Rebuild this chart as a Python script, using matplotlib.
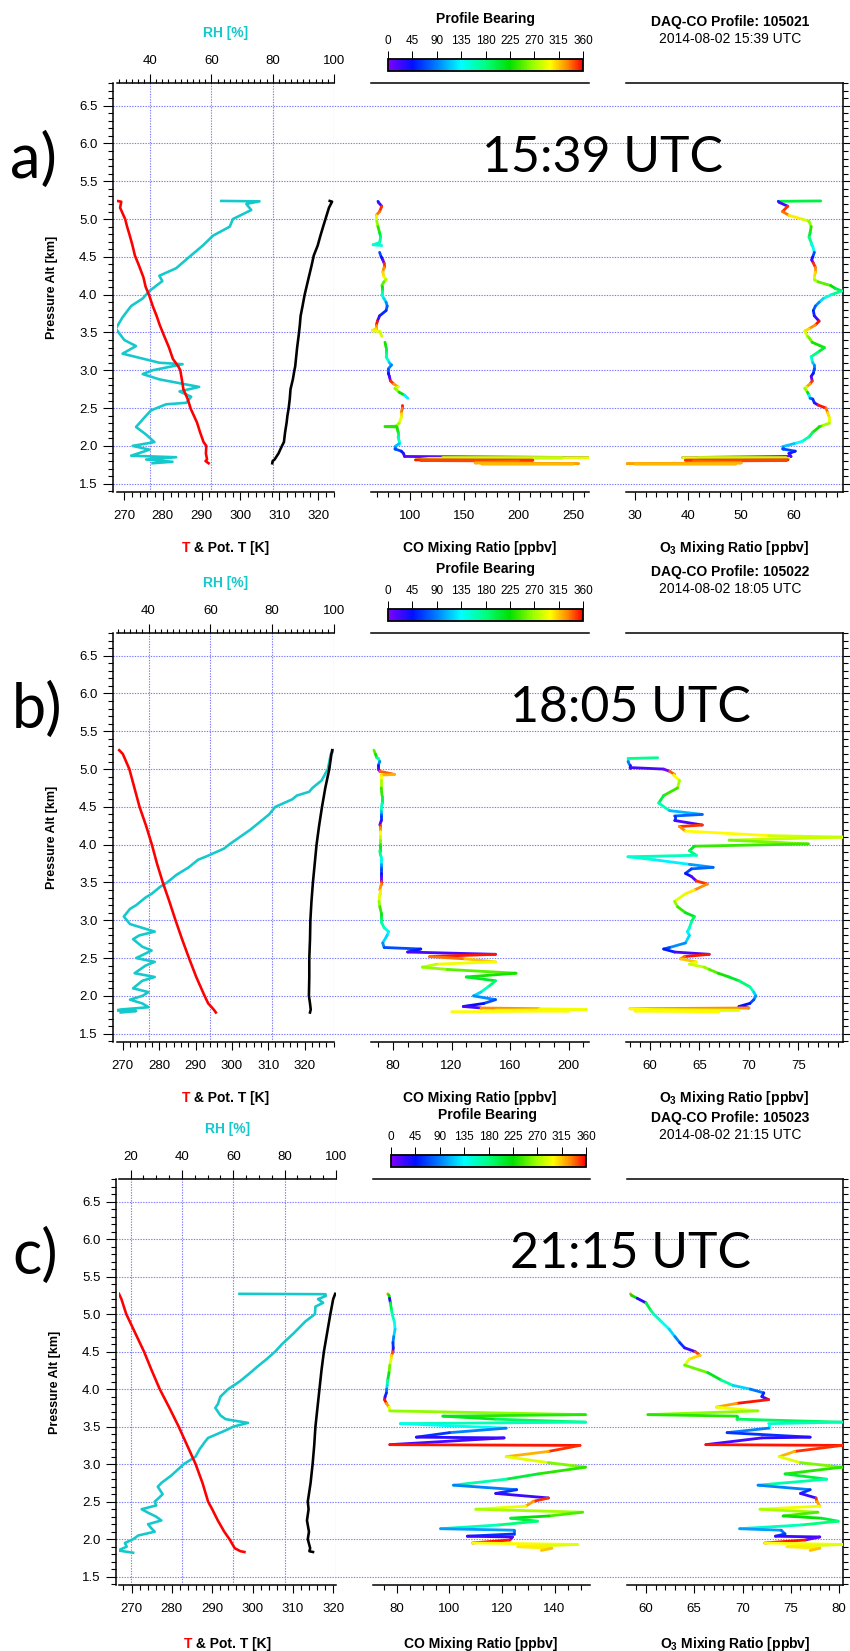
import numpy as np
import matplotlib
matplotlib.use("Agg")
import matplotlib.pyplot as plt
from matplotlib.collections import LineCollection
from matplotlib.colors import LinearSegmentedColormap, Normalize
from matplotlib.cm import ScalarMappable
from matplotlib.ticker import MultipleLocator

plt.rcParams['font.family'] = ['Liberation Sans', 'DejaVu Sans']
plt.rcParams['mathtext.fontset'] = 'custom'
plt.rcParams['mathtext.rm'] = 'Liberation Sans'
plt.rcParams['mathtext.bf'] = 'Liberation Sans:bold'

# ---------------- data ----------------
profile_ids = ["105021", "105022", "105023"]
profile_times = ["2014-08-02 15:39 UTC", "2014-08-02 18:05 UTC", "2014-08-02 21:15 UTC"]
big_times = ["15:39 UTC", "18:05 UTC", "21:15 UTC"]
panel_letters = ["a)", "b)", "c)"]
bearing_ticks = [0, 45, 90, 135, 180, 225, 270, 315, 360]

# row a) temperature / potential temperature
a_tz = [5.24, 5.23, 5.15, 5.0, 4.9, 4.78, 4.65, 4.52, 4.38, 4.23, 4.1, 3.99, 3.85, 3.72, 3.6, 3.46,
        3.3, 3.15, 3.05, 3.0, 2.88, 2.75, 2.62, 2.49, 2.4, 2.31, 2.18, 2.05, 2.0, 1.9, 1.82, 1.8, 1.77]
a_t = [268.2, 269.3, 269.0, 270.3, 270.8, 271.5, 272.2, 272.8, 273.9, 275.0, 275.6, 276.5, 277.4, 278.4,
       279.2, 280.3, 281.6, 282.6, 284.0, 284.5, 284.9, 285.3, 286.4, 287.2, 288.0, 288.8, 289.6, 290.5,
       291.2, 291.1, 291.4, 291.0, 291.8]
a_th = [323.0, 323.6, 322.8, 321.9, 321.3, 320.6, 319.9, 318.9, 318.3, 317.6, 317.0, 316.5, 316.0, 315.5,
        315.3, 315.0, 314.6, 314.3, 314.1, 313.9, 313.5, 312.9, 312.7, 312.4, 312.1, 311.9, 311.5, 311.2,
        310.7, 309.8, 308.8, 308.3, 308.2]
# row a) relative humidity
a_rz = [5.24, 5.235, 5.20, 5.12, 5.00, 4.90, 4.78, 4.65, 4.50, 4.35, 4.25, 4.18, 4.05, 3.95, 3.85, 3.70,
        3.55, 3.40, 3.32, 3.22, 3.10, 3.08, 3.00, 2.95, 2.88, 2.78, 2.72, 2.65, 2.57, 2.55, 2.47, 2.40,
        2.25, 2.15, 2.05, 2.00, 1.95, 1.87, 1.85, 1.82, 1.79, 1.77]
a_rh = [63.2, 75.7, 71.4, 73.0, 67.0, 66.0, 60.5, 57.2, 52.8, 48.5, 43.0, 44.0, 39.8, 37.6, 33.8, 31.0,
        28.8, 31.6, 35.4, 31.0, 43.0, 50.6, 40.8, 37.6, 43.0, 56.0, 49.6, 53.4, 51.8, 45.2, 40.3, 38.7,
        35.4, 38.7, 41.4, 34.3, 39.8, 33.8, 48.5, 38.7, 47.3, 40.8]
# row a) CO, O3 and bearing along the descent
a_cz = [5.24, 5.235, 5.22, 5.17, 5.10, 5.05, 5.00, 4.97, 4.90, 4.82, 4.76, 4.69, 4.66, 4.65, 4.64, 4.56,
        4.50, 4.46, 4.42, 4.36, 4.30, 4.24, 4.20, 4.17, 4.12, 4.08, 4.05, 4.00, 3.95, 3.90, 3.85, 3.79,
        3.72, 3.65, 3.60, 3.55, 3.52, 3.515, 3.45, 3.43, 3.37, 3.30, 3.24, 3.18, 3.10, 3.07, 3.02, 2.96,
        2.92, 2.86, 2.82, 2.78, 2.76, 2.71, 2.67, 2.63, 2.62, 2.57, 2.54, 2.50, 2.44, 2.38, 2.30, 2.26,
        2.255, 2.25, 2.18, 2.12, 2.06, 2.03, 1.99, 1.96, 1.93, 1.90, 1.86, 1.845, 1.842, 1.840, 1.835,
        1.815, 1.810, 1.806, 1.800, 1.775, 1.765, 1.762, 1.758]
a_co = [70.5, 70.5, 71, 74, 72, 69, 69, 69.5, 70.5, 72, 73, 72, 66, 74, np.nan, 72, 73.5, 75, 76, 76,
        75, 76, 78, 76, 74, 74, 74, 74, 76, 78, 79, 78, 72, 70, 69, 69, 64, 72, 74, np.nan,
        77, 78, 78, 78, 81, 83, 80, 80, 81, 82, 85, 89, 86, 90, 95, 98, np.nan, np.nan, 93, 93,
        92, 92, 90, 87, 77, 88, 89, 89, 90, 90, 86, 86, 92, 94, 95, 265, 130, 240, 117, 105,
        213, 110, 200, 160, 255, 166, 250]
a_o3 = [65.0, 57.0, 57.2, 58.8, 57.8, 59.0, 61.5, 62.8, 63.2, 63.0, 62.8, 63.2, 63.3, 63.4, 63.5, 63.8,
        63.5, 63.3, 63.6, 64.0, 64.0, 63.8, 63.8, 64.5, 66.9, 67.8, 69.0, 67.0, 65.5, 64.7, 64.0, 63.6,
        63.8, 64.7, 64.0, 62.8, 62.0, 62.0, 62.5, 62.8, 63.4, 65.7, 64.5, 63.2, 63.5, 63.8, 63.8, 63.6,
        63.2, 63.4, 63.0, 62.3, 62.0, 62.5, 62.8, 63.0, 63.5, 63.8, 64.5, 66.0, 66.3, 66.6, 66.6, 65.0,
        64.7, 64.7, 63.5, 62.8, 61.5, 60.0, 57.8, 57.8, 60.2, 59.0, 59.4, 39.0, 58.5, 42.0, 59.0, 58.8,
        39.5, 58.5, 41.0, 50.0, 28.5, 49.0, 30.0]
a_brg = [200, 60, 20, 350, 335, 305, 285, 265, 235, 205, 175, 155, 150, 145, 140, 70, 40, 10, 350, 330,
         310, 290, 270, 250, 225, 200, 175, 150, 120, 95, 75, 55, 25, 355, 330, 310, 295, 285, 265, 255,
         230, 205, 180, 155, 115, 90, 70, 40, 15, 350, 325, 290, 265, 220, 130, 80, 60, 25, 355, 335,
         310, 290, 270, 240, 235, 230, 190, 165, 135, 115, 90, 70, 50, 30, 15, 290, 285, 280, 275, 355,
         350, 345, 340, 320, 325, 318, 322]

# row b)
b_tz = [5.25, 5.20, 5.00, 4.75, 4.50, 4.25, 4.00, 3.75, 3.50, 3.25, 3.00, 2.75, 2.50, 2.25, 2.00, 1.90,
        1.82, 1.78]
b_t = [269.0, 270.0, 271.8, 273.2, 274.6, 276.4, 278.0, 279.4, 281.0, 282.8, 284.5, 286.3, 288.2, 290.2,
       292.5, 293.5, 295.0, 295.6]
b_th = [327.6, 327.4, 326.8, 325.7, 324.8, 324.0, 323.3, 322.8, 322.3, 321.9, 321.6, 321.5, 321.3, 321.3,
        321.2, 321.5, 321.7, 321.5]
b_rz = [5.25, 5.20, 5.00, 4.85, 4.75, 4.70, 4.65, 4.60, 4.50, 4.40, 4.30, 4.20, 4.10, 4.00, 3.95, 3.85,
        3.80, 3.70, 3.60, 3.50, 3.45, 3.35, 3.30, 3.20, 3.15, 3.05, 2.95, 2.90, 2.85, 2.80, 2.75, 2.65,
        2.60, 2.50, 2.45, 2.40, 2.30, 2.25, 2.20, 2.10, 2.05, 2.00, 1.95, 1.90, 1.85, 1.82, 1.81, 1.80, 1.78]
b_rh = [100, 99, 98, 96, 93, 92, 88, 86.5, 81, 79, 76, 73, 69.5, 66, 64.5, 59, 56, 53, 49, 46, 44, 41,
        39, 36, 34, 32, 34, 38, 42, 37, 35, 38, 41, 36, 42, 39, 35.5, 42, 38, 35, 40, 38, 34, 38, 40, 31,
        29.8, 36, 31]
b_cz = [5.25, 5.20, 5.15, 5.14, 5.10, 5.05, 5.02, 5.00, 4.97, 4.93, 4.92, 4.85, 4.75, 4.65, 4.55, 4.45,
        4.40, 4.38, 4.32, 4.26, 4.24, 4.18, 4.12, 4.10, 4.06, 4.01, 3.98, 3.92, 3.86, 3.84, 3.80, 3.74,
        3.70, 3.68, 3.62, 3.58, 3.52, 3.48, 3.40, 3.35, 3.25, 3.18, 3.10, 3.05, 2.98, 2.90, 2.85, 2.80,
        2.70, 2.64, 2.62, 2.58, 2.55, 2.52, 2.49, 2.45, 2.42, 2.38, 2.35, 2.30, 2.25, 2.20, 2.12, 2.05,
        2.00, 1.95, 1.90, 1.86, 1.84, 1.83, 1.82, 1.81, 1.80, 1.79]
b_co = [67, 68, 69, 70, 71, 70, 70, 70, 71, 81, 72, 72, 72, 72.5, 72.5, 72, 72, 72, 72, 71,
        71, 71, 71, 71, 71, 71, 71, 71, 71.5, 72, 72, 72, 72, 72, 72, 72, 72, 72, 71, 71,
        70.5, 71, 72, 72, 72, 74, 77, 76, 73, 74, 99, 90, 150, 105, 129, 150, 110, 100, 117, 164,
        130, 150, 145, 140, 135, 150, 142, 128, 140, 180, 212, 150, 200, 120]
b_o3 = [np.nan, np.nan, 60.8, 57.8, 57.8, 58.0, 58.0, 61.4, 62.0, 62.5, 62.4, 63.0, 62.8, 61.4, 60.9,
        62.0, 65.3, 62.5, 62.5, 65.3, 63.0, 63.6, 72.0, 79.6, 68.0, 76.0, 64.5, 64.0, 64.7, 57.8,
        60.5, 64.0, 66.4, 64.2, 63.6, 64.2, 64.7, 65.8, 64.5, 63.6, 62.5, 62.8, 63.6, 64.5, 64.2,
        64.0, 63.8, 64.0, 63.6, 62.0, 61.4, 62.5, 66.0, 63.5, 63.1, 64.7, 64.0, 65.5, 66.0, 66.9,
        68.0, 69.0, 70.1, 70.5, 70.7, 70.5, 70.1, 69.0, 70.0, 58.0, 60.0, 69.0, 58.5, 67.0]
b_brg = [250, 230, 175, 160, 90, 50, 20, 5, 340, 320, 300, 270, 240, 200, 160, 110, 80, 60, 20, 350,
         330, 300, 285, 280, 260, 240, 215, 185, 160, 150, 130, 100, 80, 65, 40, 15, 350, 330, 305, 290,
         265, 240, 215, 190, 165, 150, 130, 120, 95, 70, 50, 20, 355, 335, 315, 295, 280, 265, 250, 230,
         210, 185, 160, 120, 95, 70, 45, 20, 330, 300, 295, 290, 300, 310]

# row c)
c_tz = [5.27, 5.20, 5.00, 4.75, 4.50, 4.25, 4.00, 3.75, 3.50, 3.25, 3.00, 2.75, 2.50, 2.40, 2.25, 2.10,
        2.00, 1.88, 1.84, 1.83]
c_t = [266.9, 267.5, 268.7, 270.9, 273.1, 275.0, 277.0, 279.4, 281.7, 283.8, 285.9, 287.6, 289.0, 290.0,
       291.4, 293.0, 294.3, 295.6, 297.0, 298.0]
c_th = [320.5, 320.0, 319.3, 318.5, 317.7, 317.1, 316.6, 316.1, 315.6, 315.3, 314.9, 314.4, 313.7, 313.9,
        313.5, 314.0, 313.7, 314.3, 314.1, 315.0]
c_rz = [5.27, 5.265, 5.24, 5.20, 5.15, 5.10, 5.00, 4.90, 4.75, 4.60, 4.50, 4.40, 4.30, 4.20, 4.10, 4.00,
        3.90, 3.80, 3.75, 3.65, 3.60, 3.55, 3.50, 3.45, 3.35, 3.30, 3.20, 3.10, 3.00, 2.90, 2.85, 2.75,
        2.70, 2.60, 2.55, 2.50, 2.45, 2.40, 2.35, 2.30, 2.25, 2.20, 2.15, 2.10, 2.05, 2.00, 1.95, 1.90,
        1.88, 1.85, 1.83, 1.82]
c_rh = [62.4, 95.9, 96.0, 93.0, 95.0, 92.0, 91.8, 88.0, 83.7, 79.0, 76.3, 73.0, 69.4, 66.0, 62.4, 58.0,
        55.0, 54.0, 53.0, 55.0, 57.0, 65.7, 60.0, 57.0, 50.2, 49.0, 46.9, 45.3, 40.7, 37.5, 35.9, 32.0,
        30.6, 32.5, 31.0, 29.4, 30.0, 24.3, 27.0, 30.0, 32.0, 26.8, 28.0, 29.4, 23.0, 21.0, 17.8, 18.5,
        17.1, 15.2, 19.0, 21.0]
c_cz = [5.27, 5.25, 5.21, 5.15, 5.05, 5.00, 4.90, 4.80, 4.70, 4.62, 4.55, 4.50, 4.45, 4.40, 4.32, 4.22,
        4.12, 4.05, 4.00, 3.95, 3.90, 3.86, 3.81, 3.76, 3.71, 3.66, 3.64, 3.60, 3.56, 3.54, 3.48, 3.42,
        3.36, 3.35, 3.26, 3.25, 3.17, 3.10, 3.02, 2.96, 2.87, 2.80, 2.72, 2.66, 2.61, 2.55, 2.505, 2.44,
        2.40, 2.36, 2.31, 2.28, 2.24, 2.19, 2.14, 2.12, 2.07, 2.04, 2.03, 1.99, 1.95, 1.93, 1.90, 1.88, 1.85]
c_co = [76.5, 77.0, 77.2, 77.5, 78.0, 78.2, 79.0, 79.3, 78.8, 78.5, 78.6, 78.5, 78.0, 77.8, 77.3, 77.0,
        76.5, 76.3, 76.1, 76.0, 75.5, 75.3, 76.0, 77.0, 77.3, 151.8, 97.5, 117.6, 151.8, 81.3, 121.6,
        100.0, 87.4, 120.8, 77.3, 149.7, 137.7, 121.6, 137.7, 151.8, 133.7, 121.6, 101.5, 125.6, 117.6,
        137.7, 132.0, 129.0, 110.0, 150.7, 137.9, 123.3, 133.5, 118.7, 96.6, 124.6, 124.6, 106.8, 124.0,
        123.0, 108.7, 148.8, 126.0, 139.0, 135.0]
c_o3 = [58.4, 58.5, 59.1, 60.0, 60.5, 60.8, 61.6, 62.4, 63.0, 63.5, 64.0, 65.1, 65.6, 64.5, 64.0, 66.4,
        67.8, 69.0, 70.8, 72.2, 72.0, 72.7, 69.4, 67.3, 71.6, 60.2, 69.4, 69.4, 80.3, 72.7, 72.7, 68.4,
        77.0, 72.0, 66.2, 80.3, 75.4, 73.8, 76.0, 80.3, 74.4, 78.7, 71.6, 77.0, 76.0, 77.6, 77.7, 78.0,
        71.8, 77.8, 74.2, 78.2, 79.9, 76.1, 69.7, 74.0, 74.4, 73.4, 78.0, 76.5, 72.3, 80.4, 74.6, 78.0, 77.0]
c_brg = [330, 225, 30, 200, 175, 160, 140, 120, 90, 60, 25, 345, 310, 290, 255, 215, 170, 120, 85, 55,
         25, 355, 325, 295, 265, 235, 215, 190, 160, 140, 90, 60, 30, 20, 355, 350, 320, 290, 260, 235,
         205, 165, 90, 60, 25, 350, 325, 295, 270, 245, 225, 205, 180, 160, 100, 85, 60, 25, 15, 355,
         300, 290, 305, 315, 300]

# ---------------- layout ----------------
W, H = 850, 1651
PT = 0.72  # points per pixel at 100 dpi
GRID = dict(color='#7b7bff', linestyle=(0, (1.2, 1.2)), linewidth=0.8)
RH_COLOR = '#14c8cc'
ZLIM = (1.39, 6.80)

rows = [
    dict(oy=0, left=113, t=(117, 334), c=(371, 589), o=(626, 843), top=83, bot=492,
         tlim=(268.2, 324.1), rhlim=(29.2, 100), colim=(64.1, 264.7), o3lim=(28.3, 69.2),
         rh_tk=(20, 2), co_tk=(50, 10), o3_tk=(10, 2), big=(602, 158), letter=(33, 160),
         data=(a_tz, a_t, a_th, a_rz, a_rh, a_cz, a_co, a_o3, a_brg)),
    dict(oy=550, left=113, t=(117, 334), c=(371, 589), o=(626, 843), top=633, bot=1042,
         tlim=(268.4, 328.1), rhlim=(29.8, 100), colim=(65, 213.8), o3lim=(57.6, 79.5),
         rh_tk=(20, 2), co_tk=(40, 10), o3_tk=(5, 1), big=(630, 708), letter=(37, 710),
         data=(b_tz, b_t, b_th, b_rz, b_rh, b_cz, b_co, b_o3, b_brg)),
    dict(oy=1096, left=116, t=(119, 336), c=(373, 590), o=(627, 843), top=1179, bot=1585,
         tlim=(266.9, 320.7), rhlim=(15.5, 100), colim=(70.9, 153.5), o3lim=(58.04, 80.4),
         rh_tk=(20, 5), co_tk=(20, 5), o3_tk=(5, 1), big=(631, 1254), letter=(35, 1256),
         data=(c_tz, c_t, c_th, c_rz, c_rh, c_cz, c_co, c_o3, c_brg)),
]

fig = plt.figure(figsize=(W / 100, H / 100), dpi=100)
renderer = fig.canvas.get_renderer()

bearing_cmap = LinearSegmentedColormap.from_list('bearing', [
    (0.0, '#8000ff'), (45 / 360, '#0010ff'), (90 / 360, '#0080ff'), (135 / 360, '#00ffff'),
    (180 / 360, '#00ff80'), (225 / 360, '#00e000'), (270 / 360, '#a0ff00'), (300 / 360, '#ffff00'),
    (330 / 360, '#ff9000'), (1.0, '#ff0000')])
bnorm = Normalize(0, 360)


def box(x0, y0, x1, y1):
    return fig.add_axes([x0 / W, 1 - y1 / H, (x1 - x0) / W, (y1 - y0) / H])


def ftext(x, y, s, **kw):
    return fig.text(x / W, 1 - y / H, s, **kw)


def colored(ax, z, v, brg):
    z = np.asarray(z, float)
    v = np.asarray(v, float)
    brg = np.asarray(brg, float)
    pts = np.column_stack([v, z])
    segs = np.stack([pts[:-1], pts[1:]], axis=1)
    ok = np.isfinite(segs).all(axis=(1, 2))
    lc = LineCollection(segs[ok], colors=bearing_cmap(bnorm(brg[:-1][ok])),
                        linewidths=2.8 * PT, capstyle='round', joinstyle='round')
    ax.add_collection(lc)


def bottom_ticks(ax, major, minor):
    ax.xaxis.set_major_locator(MultipleLocator(major))
    ax.xaxis.set_minor_locator(MultipleLocator(minor))
    ax.tick_params(axis='x', which='major', direction='out', length=8 * PT, width=1.1 * PT,
                   pad=7, labelsize=9.5)
    ax.tick_params(axis='x', which='minor', direction='out', length=4.5 * PT, width=1.1 * PT)
    ax.tick_params(axis='y', left=False, labelleft=False, right=False)


# width of the whole temperature title, to centre the two-colour label
probe = fig.text(0, 0, 'T & Pot. T [K]', fontweight='bold', fontsize=10)
tlabel_w = probe.get_window_extent(renderer).width
probe.remove()

for i, r in enumerate(rows):
    oy = r['oy']
    top, bot = r['top'], r['bot']
    tz, t, th, rz, rh, cz, co, o3, brg = r['data']

    # background: altitude axis + horizontal grid over full width
    bg = box(r['left'], top, r['o'][1], bot)
    bg.set_xlim(0, 1)
    bg.set_ylim(*ZLIM)
    bg.set_xticks([])
    bg.yaxis.set_major_locator(MultipleLocator(0.5))
    bg.yaxis.set_minor_locator(MultipleLocator(0.1))
    bg.yaxis.set_ticks_position('both')
    bg.tick_params(axis='y', which='major', direction='out', length=10 * PT, width=1.1 * PT,
                   pad=4, labelsize=9.5, labelright=False)
    bg.tick_params(axis='y', which='minor', direction='out', length=5 * PT, width=1.1 * PT)
    bg.yaxis.grid(True, which='major', **GRID)
    for s in ('top', 'bottom'):
        bg.spines[s].set_visible(False)
    for s in ('left', 'right'):
        bg.spines[s].set_linewidth(1.1)
    bg.set_ylabel('Pressure Alt [km]', fontweight='bold', fontsize=9, labelpad=15)

    # temperature panel with RH on top
    ax_t = box(r['t'][0], top, r['t'][1], bot)
    ax_t.set_facecolor('none')
    ax_rh = ax_t.twiny()
    ax_t.set_zorder(ax_rh.get_zorder() + 1)
    ax_t.set_ylim(*ZLIM)
    ax_t.set_xlim(*r['tlim'])
    ax_rh.set_xlim(*r['rhlim'])
    for s in ('left', 'right', 'top'):
        ax_t.spines[s].set_visible(False)
    for s in ('left', 'right', 'bottom'):
        ax_rh.spines[s].set_visible(False)
    ax_t.spines['bottom'].set_linewidth(1.1)
    ax_rh.spines['top'].set_linewidth(1.1)
    bottom_ticks(ax_t, 10, 2)
    ax_rh.xaxis.set_major_locator(MultipleLocator(r['rh_tk'][0]))
    ax_rh.xaxis.set_minor_locator(MultipleLocator(r['rh_tk'][1]))
    ax_rh.tick_params(axis='x', which='major', direction='out', length=9 * PT, width=1.1 * PT,
                      pad=5, labelsize=9.5)
    ax_rh.tick_params(axis='x', which='minor', direction='out', length=4.5 * PT, width=1.1 * PT)
    ax_rh.xaxis.grid(True, which='major', **GRID)
    ax_rh.plot(rh, rz, color=RH_COLOR, lw=2.6 * PT)
    ax_t.plot(t, tz, color='#ff0000', lw=2.6 * PT)
    ax_t.plot(th, tz, color='black', lw=2.6 * PT)

    # CO panel
    ax_c = box(r['c'][0], top, r['c'][1], bot)
    ax_c.set_facecolor('none')
    ax_c.set_xlim(*r['colim'])
    ax_c.set_ylim(*ZLIM)
    for s in ('left', 'right'):
        ax_c.spines[s].set_visible(False)
    for s in ('top', 'bottom'):
        ax_c.spines[s].set_linewidth(1.1)
    bottom_ticks(ax_c, *r['co_tk'])
    colored(ax_c, cz, co, brg)

    # O3 panel
    ax_o = box(r['o'][0], top, r['o'][1], bot)
    ax_o.set_facecolor('none')
    ax_o.set_xlim(*r['o3lim'])
    ax_o.set_ylim(*ZLIM)
    for s in ('left', 'right'):
        ax_o.spines[s].set_visible(False)
    for s in ('top', 'bottom'):
        ax_o.spines[s].set_linewidth(1.1)
    bottom_ticks(ax_o, *r['o3_tk'])
    colored(ax_o, cz, o3, brg)

    # colour bar for profile bearing
    cx0 = r['left'] + 275
    cax = box(cx0, 59 + oy, cx0 + 195, 71 + oy)
    cb = fig.colorbar(ScalarMappable(norm=bnorm, cmap=bearing_cmap), cax=cax,
                      orientation='horizontal', ticks=bearing_ticks)
    cax.xaxis.set_ticks_position('top')
    cax.tick_params(axis='x', which='major', direction='out', length=8 * PT, width=1.0 * PT,
                    pad=3, labelsize=8.5)
    cax.minorticks_off()
    cb.outline.set_linewidth(1.3)

    # texts
    tc = (r['t'][0] + r['t'][1]) / 2
    ftext(tc, 33 + oy, 'RH [%]', color=RH_COLOR, fontweight='bold', fontsize=10,
          ha='center', va='center')
    ftext(cx0 + 97, 19 + oy, 'Profile Bearing', fontweight='bold', fontsize=10,
          ha='center', va='center')
    ftext(730, 22 + oy, 'DAQ-CO Profile: ' + profile_ids[i], fontweight='bold', fontsize=10,
          ha='center', va='center')
    ftext(730, 39 + oy, profile_times[i], fontsize=10, ha='center', va='center')
    ftext(r['big'][0], r['big'][1], big_times[i], family='Lato', fontsize=36,
          ha='center', va='center')
    ftext(r['letter'][0], r['letter'][1], panel_letters[i], family='Lato', fontsize=44,
          ha='center', va='center')

    # x-axis titles; red "T" followed by the black remainder
    red_t = ftext(tc - tlabel_w / 2, 548 + oy, 'T', color='#ff0000', fontweight='bold',
                  fontsize=10, ha='left', va='center')
    bg.annotate(' & Pot. T [K]', xy=(1, 0), xycoords=red_t, ha='left', va='bottom',
                fontweight='bold', fontsize=10, annotation_clip=False)
    ftext((r['c'][0] + r['c'][1]) / 2 - 0.5, 548 + oy, 'CO Mixing Ratio [ppbv]',
          fontweight='bold', fontsize=10, ha='center', va='center')
    ftext((r['o'][0] + r['o'][1]) / 2, 548 + oy, r'O$_{\mathbf{3}}$ Mixing Ratio [ppbv]',
          fontweight='bold', fontsize=10, ha='center', va='center')

fig.savefig('out.png', dpi=100)
